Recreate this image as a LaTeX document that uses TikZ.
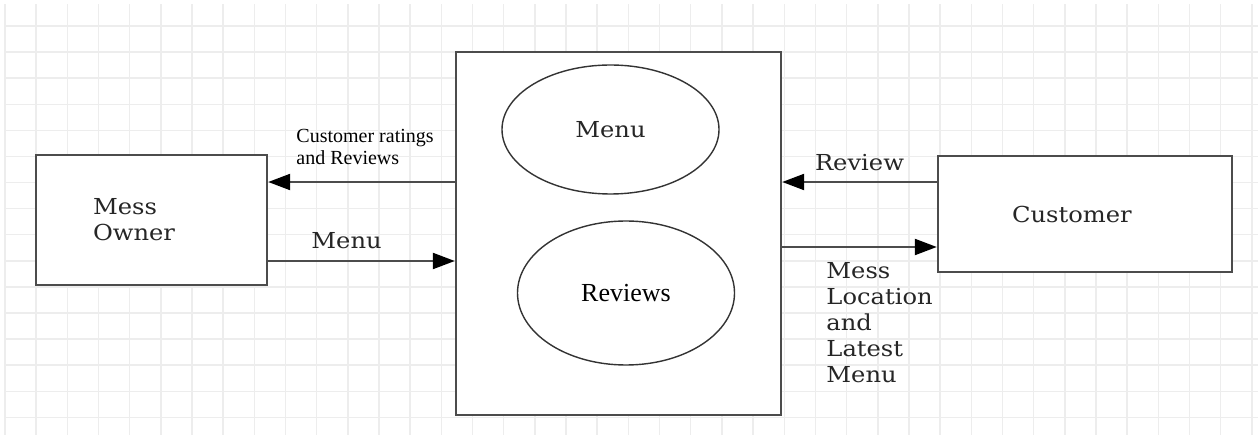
\documentclass[tikz,border=0pt]{standalone}
\usepackage{fontspec}
\setmainfont{DejaVu Serif}[FakeStretch=1.1]
\newfontfamily\timesfont{Liberation Serif}
\usetikzlibrary{arrows.meta, shapes.geometric}
\definecolor{gl}{rgb}{0.93,0.93,0.93}
\definecolor{ln}{rgb}{0.3,0.3,0.3}

\begin{document}
\begin{tikzpicture}[x=1pt, y=-1pt,
		box/.style={draw=ln, line width=2.4pt, rectangle, fill=white},
		db/.style={draw=black!80, line width=1.4pt, ellipse, fill=white, inner sep=0pt},
		txt/.style={font=\fontsize{22}{26}\selectfont, text=black!85},
		small/.style={font=\timesfont\fontsize{20}{22.3}\selectfont},
		arrow/.style={draw=ln, line width=2.2pt, -{Triangle[length=22pt,width=16pt,color=black]}},
		gridline/.style={draw=gl, line width=1.5pt}
	]
	\useasboundingbox (0,0) rectangle (1258,435);

	% grid
	\foreach \i in {0,...,40} {
		\draw[gridline] ({5+31.17*\i},4) -- ({5+31.17*\i},435);
	}
	\foreach \j in {0,...,15} {
		\draw[gridline] (5,{26+26.09*\j}) -- (1258,{26+26.09*\j});
	}

	% boxes
	\node[box, txt, align=left, text width=117pt, inner xsep=57pt, minimum height=130pt] (box-owner) at (151.5, 220) {Mess\\Owner};
	\node[box, minimum width=325pt, minimum height=363pt] (box-system) at (618.5, 233.5) {};
	\node[box, txt, align=left, text width=146pt, inner xsep=74pt, minimum height=116pt] (box-customer) at (1085, 214) {Customer};

	% stores
	\node[db, txt, minimum width=217pt, minimum height=129pt] (ell-menu) at (610.5, 129.5) {Menu};
	\node[db, font=\timesfont\fontsize{26}{30}\selectfont, minimum width=217pt, minimum height=144pt] (ell-reviews) at (626, 293) {Reviews};

	% owner side
	\path ([yshift=38pt]box-owner.east) coordinate (c-rate);
	\path ([yshift=-41pt]box-owner.east) coordinate (c-menu);
	\draw[arrow] (box-system.west |- c-rate) -- (c-rate);
	\node[small, anchor=south west, align=left] (lbl-rate) at ([xshift=24.7pt, yshift=13.7pt]c-rate) {Customer ratings\\and Reviews};
	\draw[arrow] (c-menu) -- (box-system.west |- c-menu) node[txt, pos=0.42, above=7.5pt] (lbl-menu) {Menu};

	% customer side
	\path ([yshift=32pt]box-customer.west) coordinate (c-review);
	\path ([yshift=-33pt]box-customer.west) coordinate (c-loc);
	\path (box-system.east |- c-loc) coordinate (c-loc-s);
	\draw[arrow] (c-review) -- (box-system.east |- c-review) node[txt, midway, above=6.7pt] (lbl-review) {Review};
	\draw[arrow] (c-loc-s) -- (c-loc);
	\node[txt, anchor=north west, align=left] (lbl-loc) at ([xshift=40.7pt, yshift=-11.7pt]c-loc-s) {Mess\\Location\\and\\Latest\\Menu};

\end{tikzpicture}
\end{document}
